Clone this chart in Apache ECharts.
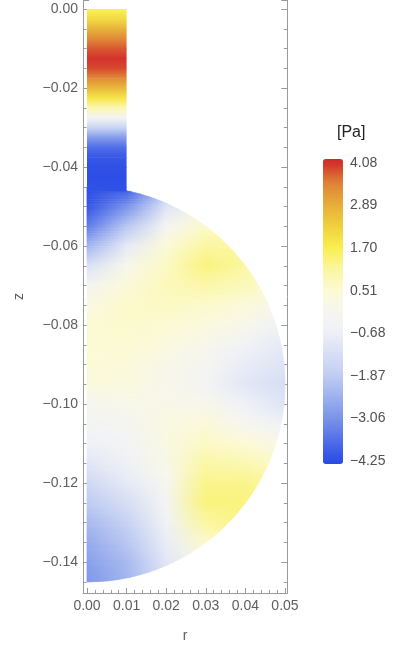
<!DOCTYPE html>
<html>
<head>
<meta charset="utf-8">
<script src="https://cdn.jsdelivr.net/npm/echarts@6/dist/echarts.min.js"></script>
<style>
  html, body { margin: 0; padding: 0; background: #fff; }
  #chart { width: 397px; height: 649px; }
</style>
</head>
<body>
<div id="chart"></div>
<script>
// geometry of the flask (m)
const TUBE_R = 0.01
const SPHERE_ZC = -0.095
const SPHERE_R = 0.05

// neck: pressure (Pa) along z, same across the neck
const tubeZ = [0, -0.0025, -0.005, -0.0075, -0.01, -0.0125, -0.015, -0.0175, -0.02, -0.0225,
  -0.025, -0.0275, -0.03, -0.0325, -0.035, -0.0375, -0.04, -0.0425, -0.045]
const tubeP = [1.6, 2.1, 2.8, 3.4, 3.8, 4.05, 3.9, 3.4, 2.7, 1.9,
  0.9, -0.3, -1.6, -2.9, -3.7, -4.1, -4.2, -4.25, -4.2]

// bulb: one row of pressure (Pa) per z, columns at bulbR
const bulbR = [0, 0.01, 0.02, 0.03, 0.04, 0.05]
const bulbZ = [-0.045, -0.05, -0.055, -0.06, -0.065, -0.07, -0.075, -0.08, -0.085, -0.09, -0.095,
  -0.1, -0.105, -0.11, -0.115, -0.12, -0.125, -0.13, -0.135, -0.14, -0.145]
const bulbP = [
  [-4.25, -4.15, -2.2, 0.0, 0.3, 0.8],
  [-4.15, -3.1, -1.1, 0.0, 0.6, 0.8],
  [-3.5, -2.0, -0.2, 0.6, 0.9, 0.8],
  [-2.4, -0.9, 0.4, 1.1, 1.1, 0.8],
  [-1.2, 0.0, 0.7, 1.35, 1.1, 0.8],
  [-0.3, 0.4, 0.8, 1.0, 0.8, 0.5],
  [0.2, 0.6, 0.7, 0.6, 0.4, -0.1],
  [0.5, 0.6, 0.5, 0.3, 0.0, -0.6],
  [0.5, 0.5, 0.3, 0.0, -0.5, -0.9],
  [0.45, 0.4, 0.1, -0.2, -0.8, -1.1],
  [0.3, 0.3, 0.0, -0.3, -1.0, -1.3],
  [-0.1, 0.0, 0.1, 0.0, -0.6, -1.1],
  [-0.35, -0.2, 0.2, 0.4, -0.1, -0.6],
  [-0.6, -0.4, 0.2, 0.7, 0.5, 0.0],
  [-1.0, -0.6, 0.1, 1.0, 0.9, 0.6],
  [-1.5, -0.9, -0.1, 1.25, 1.25, 1.0],
  [-1.9, -1.3, -0.3, 1.35, 1.35, 1.1],
  [-2.3, -1.7, -0.5, 1.1, 1.3, 1.1],
  [-2.6, -2.0, -0.8, 0.6, 1.1, 1.0],
  [-2.85, -2.3, -1.0, 0.2, 0.9, 0.8],
  [-3.0, -2.4, -1.2, 0.0, 0.6, 0.6]
]

// legend ticks
const barMin = -4.25
const barMax = 4.08
const barStep = 1.19

// temperature-map like colour scale (value -> colour)
const scaleP = [-4.35, -4.25, -3.06, -1.87, -0.68, -0.1, 0.51, 1.1, 1.7, 2.3, 2.89, 3.5, 4.08, 4.18]
const scaleC = ['#2a4ae5', '#2d4ee6', '#7b95ea', '#c0cdf2', '#eef0f7', '#f6f6f0', '#fcfad4',
  '#fbf6a0', '#f9ef4e', '#f0d03e', '#e7ae3a', '#df8436', '#d22f2b', '#ce2a28']

const FRAME = '#9a9a9a'
const LABEL = '#5e5e5e'
const FONT = "'Liberation Sans', Arial, sans-serif"

const scaleRGB = scaleC.map(h => [1, 3, 5].map(i => parseInt(h.substr(i, 2), 16)))

function colorOf(p) {
  if (p <= scaleP[0]) return scaleRGB[0]
  const n = scaleP.length - 1
  if (p >= scaleP[n]) return scaleRGB[n]
  let k = 0
  while (p > scaleP[k + 1]) k++
  const t = (p - scaleP[k]) / (scaleP[k + 1] - scaleP[k])
  return mixRGB(scaleRGB[k], scaleRGB[k + 1], t)
}
function mixRGB(a, b, t) {
  return [0, 1, 2].map(i => a[i] + (b[i] - a[i]) * t)
}
function css(c) {
  return 'rgb(' + c.map(v => Math.round(v)).join(',') + ')'
}

// r of the bulb wall at height z
function bulbEdge(z) {
  const d = z - SPHERE_ZC
  return Math.sqrt(Math.max(0, SPHERE_R * SPHERE_R - d * d))
}
// where the neck meets the bulb
const TUBE_BOTTOM = SPHERE_ZC + Math.sqrt(SPHERE_R * SPHERE_R - TUBE_R * TUBE_R)

function fmtAxis(step) {
  return v => {
    const k = v / step
    if (Math.abs(k - Math.round(k)) > 1e-6) return ''
    return (v < -1e-9 ? '\u2212' : '') + Math.abs(v).toFixed(2)
  }
}

// bulb: each row draws the band down to the next row, shaded in thin slices
function renderBulb(params, api) {
  const i = params.dataIndex
  if (i >= bulbZ.length - 1) return null
  const zA = bulbZ[i], zB = bulbZ[i + 1]
  const rMax = bulbR[bulbR.length - 1]
  const x0 = api.coord([0, zA])[0]
  const x1 = api.coord([rMax, zA])[0]
  const rowA = bulbP[i].map(colorOf)
  const rowB = bulbP[i + 1].map(colorOf)
  const children = []
  const N = 8
  for (let j = 0; j < N; j++) {
    const t = (j + 0.5) / N
    const zt = zA + (zB - zA) * j / N
    const zb = zA + (zB - zA) * (j + 1) / N
    const pts = [api.coord([0, zt])]
    for (let m = 0; m <= 4; m++) {
      const z = zt + (zb - zt) * m / 4
      pts.push(api.coord([bulbEdge(z), z]))
    }
    pts.push(api.coord([0, zb]))
    const fill = {
      type: 'linear', x: x0, y: 0, x2: x1, y2: 0, global: true,
      colorStops: bulbR.map((r, k) => ({offset: r / rMax, color: css(mixRGB(rowA[k], rowB[k], t))}))
    }
    children.push({type: 'polygon', shape: {points: pts}, style: {fill: fill, stroke: fill, lineWidth: 0.8}})
  }
  return {type: 'group', children: children}
}

// neck: each z draws the slice down to the next z
function renderTube(params, api) {
  const i = params.dataIndex
  const last = i === tubeZ.length - 1
  const zA = tubeZ[i]
  const zB = last ? TUBE_BOTTOM : tubeZ[i + 1]
  const p1 = api.coord([0, zA])
  const p2 = api.coord([TUBE_R, zB])
  const cA = css(colorOf(tubeP[i]))
  const cB = css(colorOf(last ? tubeP[i] : tubeP[i + 1]))
  return {
    type: 'rect',
    shape: {x: p1[0], y: p1[1], width: p2[0] - p1[0], height: p2[1] - p1[1] + 0.6},
    style: {fill: {type: 'linear', x: 0, y: p1[1], x2: 0, y2: p2[1], global: true,
      colorStops: [{offset: 0, color: cA}, {offset: 1, color: cB}]}}
  }
}

const barColors = []
for (let k = 0; k <= 60; k++) {
  barColors.push(css(colorOf(scaleP[0] + (scaleP[scaleP.length - 1] - scaleP[0]) * k / 60)))
}

const frameAxis = {
  axisLine: {show: true, onZero: false, lineStyle: {color: FRAME, width: 1}},
  axisTick: {show: true, inside: true, lineStyle: {color: FRAME}},
  minorTick: {show: true, lineStyle: {color: FRAME}},
  splitLine: {show: false}
}

const chart = echarts.init(document.getElementById('chart'))
chart.setOption({
  backgroundColor: '#fff',
  animation: false,
  title: {
    text: '[Pa]', left: 337, top: 125, padding: 0,
    textStyle: {fontSize: 16, fontWeight: 'normal', color: '#222', fontFamily: FONT}
  },
  grid: [
    {left: 83.04, top: 0, width: 204.3, height: 593},
    {left: 323, top: 163, width: 20, height: 298}
  ],
  xAxis: [
    Object.assign({}, frameAxis, {
      type: 'value', gridIndex: 0, position: 'bottom', min: -0.001, max: 0.0506,
      minInterval: 0.01, maxInterval: 0.01,
      axisTick: Object.assign({}, frameAxis.axisTick, {length: 5}),
      minorTick: Object.assign({}, frameAxis.minorTick, {splitNumber: 5, length: 3}),
      axisLabel: {margin: 6, color: LABEL, fontSize: 14, fontFamily: FONT, formatter: fmtAxis(0.01)},
      name: 'r', nameLocation: 'middle', nameGap: 36,
      nameTextStyle: {color: LABEL, fontSize: 14, fontFamily: FONT}
    }),
    {type: 'value', gridIndex: 1, min: 0, max: 1, show: false}
  ],
  yAxis: [
    Object.assign({}, frameAxis, {
      type: 'value', gridIndex: 0, position: 'left', min: -0.1478, max: 0.0023,
      minInterval: 0.02, maxInterval: 0.02,
      axisTick: Object.assign({}, frameAxis.axisTick, {length: 6}),
      minorTick: Object.assign({}, frameAxis.minorTick, {splitNumber: 4, length: 3.5}),
      axisLabel: {margin: 5, color: LABEL, fontSize: 14, fontFamily: FONT, formatter: fmtAxis(0.02)},
      name: 'z', nameLocation: 'middle', nameGap: 57,
      nameTextStyle: {color: LABEL, fontSize: 14, fontFamily: FONT}
    }),
    Object.assign({}, frameAxis, {
      type: 'value', gridIndex: 0, position: 'right', min: -0.1478, max: 0.0023,
      minInterval: 0.02, maxInterval: 0.02,
      axisTick: Object.assign({}, frameAxis.axisTick, {length: 6}),
      minorTick: Object.assign({}, frameAxis.minorTick, {splitNumber: 4, length: 3.5}),
      axisLabel: {show: false}
    }),
    {
      type: 'value', gridIndex: 1, position: 'right', min: barMin, max: barMax, interval: barStep,
      axisLine: {show: false},
      axisTick: {show: true, inside: false, length: 5, lineStyle: {color: FRAME}},
      splitLine: {show: false},
      axisLabel: {margin: 7, color: '#505050', fontSize: 14, fontFamily: FONT,
        formatter: v => (v < -1e-9 ? '\u2212' : '') + Math.abs(v).toFixed(2)}
    }
  ],
  visualMap: {
    type: 'continuous', min: scaleP[0], max: scaleP[scaleP.length - 1],
    left: 323, top: 159, itemWidth: 20, itemHeight: 305, padding: 0,
    calculable: false, hoverLink: false,
    seriesIndex: 1, dimension: 2,
    inRange: {color: barColors}
  },
  series: [
    {
      type: 'custom', name: 'bulb', xAxisIndex: 0, yAxisIndex: 0, clip: true,
      renderItem: renderBulb,
      data: bulbZ.map((z, i) => [0, z, bulbP[i][0]])
    },
    {
      type: 'custom', name: 'neck', xAxisIndex: 0, yAxisIndex: 0, clip: true,
      renderItem: renderTube,
      data: tubeZ.map((z, i) => [0, z, tubeP[i]])
    }
  ]
})
</script>
</body>
</html>
